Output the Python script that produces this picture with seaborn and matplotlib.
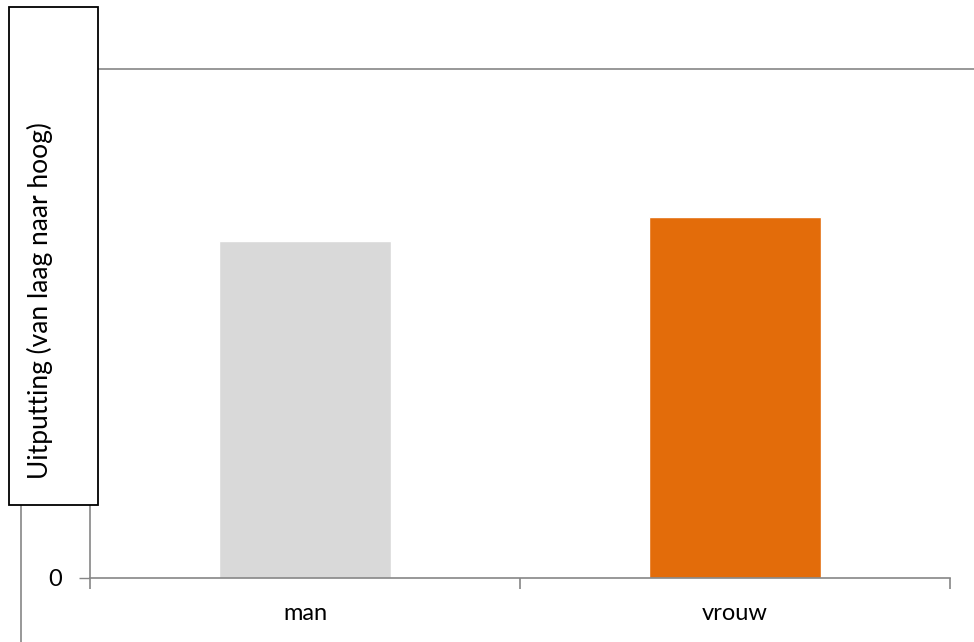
import matplotlib
matplotlib.use("Agg")
import matplotlib.pyplot as plt
import seaborn as sns
import pandas as pd
from matplotlib.patches import Rectangle
from matplotlib.lines import Line2D

categories = ["man", "vrouw"]
values = [3.31, 3.55]
bar_colors = ["#D9D9D9", "#E36C0A"]
y_max = 5
y_label = "Uitputting (van laag naar hoog)"

sns.set_theme(style="white")
plt.rcParams["font.family"] = ["Lato", "DejaVu Sans"]

W, H = 974, 642
fig = plt.figure(figsize=(W / 100, H / 100), dpi=100)
ax = fig.add_axes([90 / W, 1 - 578 / H, (974 - 90) / W, (578 - 69) / H])

df = pd.DataFrame({"cat": categories, "val": values})
sns.barplot(data=df, x="cat", y="val", hue="cat", palette=bar_colors,
            width=0.4, legend=False, ax=ax, saturation=1)

axis_grey = "#868686"
span = (974 - 90) / 430
ax.set_xlim(-0.5, -0.5 + span)
ax.set_ylim(0, y_max)

# only the top gridline; the zero line is the x axis itself
ax.axhline(y_max, color=axis_grey, linewidth=1.2, zorder=0, clip_on=False)

ax.set_yticks([0])
ax.set_yticklabels(["0"])
ax.tick_params(axis="y", length=8, width=1, color=axis_grey, labelsize=17,
               pad=12, left=True, labelcolor="black")

ax.set_xticks([0, 1])
ax.set_xticklabels(categories)
ax.tick_params(axis="x", length=0, labelsize=17, pad=18, labelcolor="black")
ax.set_xticks([-0.5, 0.5, 1.5], minor=True)
ax.tick_params(axis="x", which="minor", length=8, width=1.2, color=axis_grey,
               bottom=True)

ax.set_xlabel("")
ax.set_ylabel("")
for side in ["top", "right"]:
    ax.spines[side].set_visible(False)
for side in ["left", "bottom"]:
    ax.spines[side].set_color(axis_grey)
    ax.spines[side].set_linewidth(1.2)
ax.spines["bottom"].set_bounds(-0.5, 1.5)

# framed axis title box
box = Rectangle((9 / W, 1 - 505 / H), (98 - 9) / W, (505 - 7) / H,
                transform=fig.transFigure, facecolor="white",
                edgecolor="black", linewidth=1.3, zorder=10)
fig.patches.append(box)
fig.text(40 / W, 1 - 301 / H, y_label, rotation=90, ha="center", va="center",
         fontsize=19, color="black", zorder=11)

# connector line below the title box
fig.lines.append(Line2D([21 / W, 21 / W], [1 - 505 / H, 0],
                        transform=fig.transFigure, color=axis_grey,
                        linewidth=1.2, zorder=9))

fig.savefig("out.png", dpi=100)
